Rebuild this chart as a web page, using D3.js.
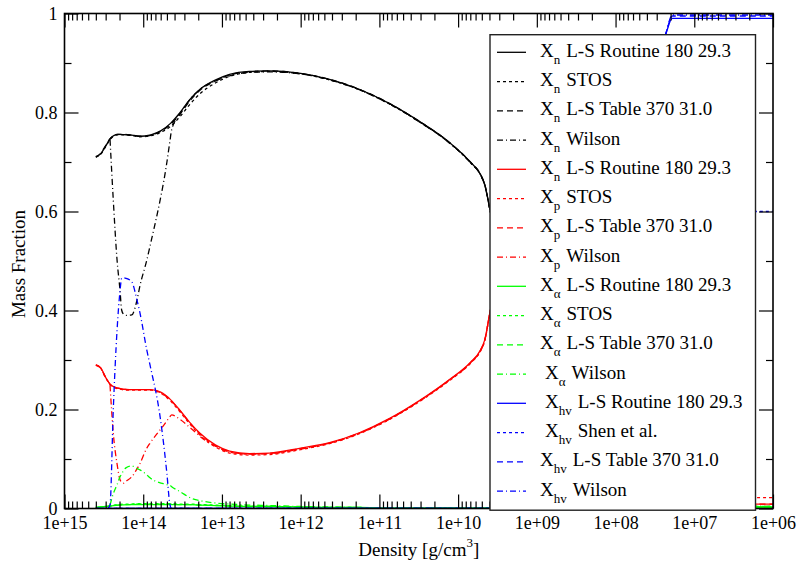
<!DOCTYPE html>
<html>
<head>
<meta charset="utf-8">
<script src="https://cdn.jsdelivr.net/npm/d3@7"></script>
</head>
<body style="margin:0;background:#fff">
<svg id="chart" width="801" height="571"></svg>
<script>
// density grid (g/cm^3) for the L-S / STOS / Table curves
let rho = [4.0e14, 3.5e14, 3.0e14, 2.6e14, 2.1e14, 1.5e14, 1.1e14, 8e13, 6e13, 4.5e13,
  3.4e13, 2.6e13, 1.9e13, 1.2e13, 8e12, 4.5e12, 2.5e12, 1e12, 4.3e11, 1.8e11,
  7.4e10, 3.1e10, 1.3e10, 7e9, 5.2e9, 4.6e9, 3.9e9, 2.5e9, 1e9, 3e8,
  1e8, 4e7, 2.35e7, 1.9e7, 1.5e7, 1e7, 5e6, 2e6, 1e6];

let xnRoutine = [0.710, 0.716, 0.732, 0.748, 0.756, 0.755, 0.752, 0.755, 0.763, 0.778,
  0.800, 0.825, 0.847, 0.866, 0.877, 0.883, 0.884, 0.879, 0.867, 0.847,
  0.818, 0.782, 0.740, 0.700, 0.675, 0.655, 0.600, 0.45, 0.25, 0.10,
  0.03, 0.01, 0.005, 0, 0, 0, 0, 0, 0];
let xnStos = [0.710, 0.715, 0.731, 0.747, 0.755, 0.754, 0.751, 0.753, 0.760, 0.772,
  0.792, 0.815, 0.838, 0.860, 0.873, 0.881, 0.883, 0.878, 0.866, 0.846,
  0.817, 0.781, 0.739, 0.699, 0.674, 0.654, 0.600, 0.45, 0.25, 0.10,
  0.03, 0.01, 0.005, 0, 0, 0, 0, 0, 0];
let xnTable = [0.711, 0.717, 0.733, 0.748, 0.756, 0.755, 0.752, 0.754, 0.762, 0.776,
  0.797, 0.822, 0.845, 0.864, 0.876, 0.882, 0.884, 0.879, 0.867, 0.847,
  0.818, 0.782, 0.740, 0.700, 0.675, 0.655, 0.600, 0.45, 0.25, 0.10,
  0.03, 0.01, 0.005, 0, 0, 0, 0, 0, 0];

let xpRoutine = [0.290, 0.285, 0.265, 0.250, 0.243, 0.240, 0.240, 0.240, 0.235, 0.220,
  0.198, 0.175, 0.152, 0.128, 0.116, 0.111, 0.112, 0.122, 0.133, 0.153,
  0.182, 0.218, 0.260, 0.295, 0.320, 0.340, 0.400, 0.48, 0.52, 0.42,
  0.22, 0.08, 0.03, 0.012, 0.01, 0.01, 0.01, 0.009, 0.009];
let xpStos = [0.290, 0.284, 0.264, 0.249, 0.242, 0.239, 0.239, 0.239, 0.233, 0.217,
  0.195, 0.172, 0.148, 0.124, 0.112, 0.108, 0.109, 0.119, 0.131, 0.151,
  0.180, 0.216, 0.258, 0.293, 0.318, 0.338, 0.398, 0.48, 0.52, 0.42,
  0.22, 0.09, 0.05, 0.03, 0.025, 0.022, 0.022, 0.022, 0.022];
let xpTable = [0.289, 0.284, 0.265, 0.250, 0.243, 0.240, 0.240, 0.240, 0.234, 0.219,
  0.197, 0.174, 0.150, 0.126, 0.114, 0.110, 0.111, 0.121, 0.132, 0.152,
  0.181, 0.217, 0.259, 0.294, 0.319, 0.339, 0.399, 0.48, 0.52, 0.42,
  0.22, 0.08, 0.03, 0.012, 0.01, 0.01, 0.01, 0.009, 0.009];

let xaRoutine = [0.002, 0.003, 0.004, 0.005, 0.007, 0.008, 0.008, 0.008, 0.008, 0.008,
  0.008, 0.008, 0.007, 0.006, 0.005, 0.004, 0.004, 0.003, 0.002, 0.002,
  0.001, 0.001, 0.001, 0.001, 0.001, 0.001, 0.001, 0.002, 0.004, 0.006,
  0.006, 0.005, 0.004, 0.003, 0.003, 0.003, 0.003, 0.003, 0.003];
let xaStos = [0.002, 0.003, 0.004, 0.006, 0.008, 0.009, 0.010, 0.010, 0.010, 0.010,
  0.009, 0.009, 0.008, 0.007, 0.006, 0.005, 0.004, 0.003, 0.002, 0.002,
  0.001, 0.001, 0.001, 0.001, 0.001, 0.001, 0.001, 0.002, 0.004, 0.006,
  0.006, 0.005, 0.004, 0.004, 0.004, 0.004, 0.004, 0.004, 0.004];
let xaTable = [0.002, 0.003, 0.004, 0.005, 0.007, 0.008, 0.009, 0.009, 0.009, 0.009,
  0.008, 0.008, 0.007, 0.006, 0.005, 0.004, 0.004, 0.003, 0.002, 0.002,
  0.001, 0.001, 0.001, 0.001, 0.001, 0.001, 0.001, 0.002, 0.004, 0.006,
  0.006, 0.005, 0.004, 0.003, 0.003, 0.003, 0.003, 0.003, 0.003];

let xhvRoutine = [0, 0, 0, 0, 0, 0, 0, 0, 0, 0,
  0, 0, 0, 0, 0, 0, 0, 0, 0, 0,
  0, 0, 0, 0, 0, 0, 0, 0.06, 0.22, 0.48,
  0.75, 0.90, 0.955, 0.99, 0.99, 0.99, 0.99, 0.99, 0.99];
let xhvShen = [0, 0, 0, 0, 0, 0, 0, 0, 0, 0,
  0, 0, 0, 0, 0, 0, 0, 0, 0, 0,
  0, 0, 0, 0, 0, 0, 0, 0.06, 0.22, 0.45,
  0.60, 0.60, 0.60, 0.60, 0.60, 0.60, 0.60, 0.60, 0.60];
let xhvTable = [0, 0, 0, 0, 0, 0, 0, 0, 0, 0,
  0, 0, 0, 0, 0, 0, 0, 0, 0, 0,
  0, 0, 0, 0, 0, 0, 0, 0.06, 0.22, 0.48,
  0.75, 0.90, 0.955, 0.995, 0.995, 0.995, 0.995, 0.995, 0.995];

// density grid for the Wilson curves
let rhoW = [2.8e14, 2.64e14, 2.4e14, 2.15e14, 1.97e14, 1.88e14, 1.79e14, 1.66e14, 1.4e14, 1.2e14,
  1.1e14, 9e13, 8.2e13, 6.1e13, 5.5e13, 5.0e13, 4.6e13, 4.35e13, 3.4e13, 2.4e13,
  1.64e13, 1.2e13, 8e12, 4.5e12, 2.5e12, 1e12, 4.3e11, 1.8e11, 7.4e10, 3.1e10,
  1.3e10, 7e9, 5.2e9, 4.6e9, 3.9e9, 2.5e9, 1e9, 3e8, 1e8, 4e7,
  2.35e7, 1.9e7, 1e7, 1e6];

let xnWilson = [null, 0.745, 0.623, 0.502, 0.440, 0.401, 0.393, 0.390, 0.391, 0.421,
  0.450, 0.502, 0.530, 0.623, 0.660, 0.700, 0.740, 0.765, 0.797, 0.831,
  0.854, 0.864, 0.874, 0.881, 0.882, 0.878, 0.866, 0.846, 0.817, 0.781,
  0.739, 0.699, 0.674, 0.654, 0.600, 0.45, 0.25, 0.10, 0.03, 0.01,
  0.005, 0, 0, 0];
let xpWilson = [null, 0.249, 0.152, 0.090, 0.058, 0.053, 0.051, 0.055, 0.064, 0.080,
  0.091, 0.122, 0.132, 0.159, 0.168, 0.177, 0.185, 0.189, 0.180, 0.160,
  0.138, 0.126, 0.115, 0.110, 0.111, 0.120, 0.132, 0.152, 0.181, 0.217,
  0.259, 0.294, 0.319, 0.339, 0.399, 0.48, 0.52, 0.42, 0.22, 0.08,
  0.03, 0.012, 0.006, 0.004];
let xaWilson = [null, 0.007, 0.030, 0.048, 0.064, 0.070, 0.076, 0.082, 0.086, 0.081,
  0.078, 0.068, 0.062, 0.052, 0.050, 0.048, 0.047, 0.044, 0.034, 0.020,
  0.014, 0.011, 0.009, 0.007, 0.006, 0.004, 0.003, 0.002, 0.001, 0.001,
  0.001, 0.001, 0.001, 0.001, 0.001, 0.002, 0.003, 0.004, 0.004, 0.004,
  0.004, 0.004, 0.004, 0.004];
let xhvWilson = [0, 0.007, 0.200, 0.360, 0.440, 0.465, 0.466, 0.465, 0.458, 0.421,
  0.395, 0.320, 0.290, 0.185, 0.130, 0.070, 0.010, 0, 0, 0,
  0, 0, 0, 0, 0, 0, 0, 0, 0, 0,
  0, 0, 0, 0, 0, 0.05, 0.20, 0.46, 0.74, 0.90,
  0.955, 0.997, 0.997, 0.997];

let xTicks = [1e15, 1e14, 1e13, 1e12, 1e11, 1e10, 1e9, 1e8, 1e7, 1e6];
let xTickLabels = ["1e+15", "1e+14", "1e+13", "1e+12", "1e+11", "1e+10", "1e+09", "1e+08", "1e+07", "1e+06"];
let yTicks = [0, 0.2, 0.4, 0.6, 0.8, 1];
let yTickLabels = ["0", "0.2", "0.4", "0.6", "0.8", "1"];
let yMinor = [0.1, 0.3, 0.5, 0.7, 0.9];

let legendSubs = ["n", "n", "n", "n", "n", "p", "p", "p", "α", "α", "α", "α", "hv", "hv", "hv", "hv"];
let legendTexts = ["L-S Routine 180 29.3", "STOS", "L-S Table 370 31.0", "Wilson",
  "L-S Routine 180 29.3", "STOS", "L-S Table 370 31.0", "Wilson",
  "L-S Routine 180 29.3", "STOS", "L-S Table 370 31.0", "Wilson",
  "L-S Routine 180 29.3", "Shen et al.", "L-S Table 370 31.0", "Wilson"];
let legendLead = [0, 0, 0, 0, 0, 0, 0, 0, 0, 0, 0, 1, 1, 1, 0, 0];

let colors = {n: "#000000", p: "#ff0000", a: "#00ff00", hv: "#0000ff"};
let dashes = {routine: null, stos: "3,3", table: "6,4", wilson: "6,3,1,3"};

let series = [
  {x: rho, y: xnRoutine, c: colors.n, d: dashes.routine},
  {x: rho, y: xnStos, c: colors.n, d: dashes.stos},
  {x: rho, y: xnTable, c: colors.n, d: dashes.table},
  {x: rhoW, y: xnWilson, c: colors.n, d: dashes.wilson},
  {x: rho, y: xpRoutine, c: colors.p, d: dashes.routine},
  {x: rho, y: xpStos, c: colors.p, d: dashes.stos},
  {x: rho, y: xpTable, c: colors.p, d: dashes.table},
  {x: rhoW, y: xpWilson, c: colors.p, d: dashes.wilson},
  {x: rho, y: xaRoutine, c: colors.a, d: dashes.routine},
  {x: rho, y: xaStos, c: colors.a, d: dashes.stos},
  {x: rho, y: xaTable, c: colors.a, d: dashes.table},
  {x: rhoW, y: xaWilson, c: colors.a, d: dashes.wilson},
  {x: rho, y: xhvRoutine, c: colors.hv, d: dashes.routine},
  {x: rho, y: xhvShen, c: colors.hv, d: dashes.stos},
  {x: rho, y: xhvTable, c: colors.hv, d: dashes.table},
  {x: rhoW, y: xhvWilson, c: colors.hv, d: dashes.wilson}
];

const FONT = "Liberation Serif";

let margin = {top: 13.5, right: 28, bottom: 62.5, left: 64.5},
    width = 801 - margin.left - margin.right,
    height = 571 - margin.top - margin.bottom;

let svg = d3.select("#chart");
let g = svg.append("g").attr("transform", `translate(${margin.left},${margin.top})`);

let x = d3.scaleLog().domain([1e15, 1e6]).range([0, width]);
let y = d3.scaleLinear().domain([0, 1]).range([height, 0]);

// minor ticks at 2..9 x decade
let xMinor = [];
xTicks.slice(1).forEach(dec => {
  for (let k = 2; k <= 9; k++) xMinor.push(dec * k);
});

g.append("clipPath").attr("id", "clip")
  .append("rect").attr("width", width).attr("height", height);

let line = d3.line()
  .defined(d => d[1] != null)
  .x(d => x(d[0]))
  .y(d => y(d[1]))
  .curve(d3.curveMonotoneX);

g.append("g").attr("clip-path", "url(#clip)")
  .selectAll("path")
  .data(series)
  .enter()
  .append("path")
  .attr("d", s => line(s.x.map((r, i) => [r, s.y[i]])))
  .attr("fill", "none")
  .attr("stroke", s => s.c)
  .attr("stroke-width", 1.3)
  .attr("stroke-dasharray", s => s.d);

// axes, ticks pointing inward on all four sides
function styleAxis(sel) {
  sel.attr("font-family", FONT).attr("font-size", 18);
  sel.select(".domain").remove();
  sel.selectAll("line").attr("stroke", "#000").attr("stroke-width", 1.2);
  sel.selectAll("text").attr("font-size", 18).attr("font-family", FONT).attr("fill", "#000");
}

g.append("g").attr("transform", `translate(0,${height})`)
  .call(d3.axisBottom(x).tickValues(xTicks).tickSize(-14).tickPadding(8)
    .tickFormat((d, i) => xTickLabels[i]))
  .call(styleAxis);
g.append("g").attr("transform", `translate(0,${height})`)
  .call(d3.axisBottom(x).tickValues(xMinor).tickSize(-7).tickFormat(""))
  .call(styleAxis);
g.append("g")
  .call(d3.axisTop(x).tickValues(xTicks).tickSize(-14).tickFormat(""))
  .call(styleAxis);
g.append("g")
  .call(d3.axisTop(x).tickValues(xMinor).tickSize(-7).tickFormat(""))
  .call(styleAxis);

g.append("g")
  .call(d3.axisLeft(y).tickValues(yTicks).tickSize(-14).tickPadding(7)
    .tickFormat((d, i) => yTickLabels[i]))
  .call(styleAxis);
g.append("g")
  .call(d3.axisLeft(y).tickValues(yMinor).tickSize(-7).tickFormat(""))
  .call(styleAxis);
g.append("g").attr("transform", `translate(${width},0)`)
  .call(d3.axisRight(y).tickValues(yTicks).tickSize(-14).tickFormat(""))
  .call(styleAxis);
g.append("g").attr("transform", `translate(${width},0)`)
  .call(d3.axisRight(y).tickValues(yMinor).tickSize(-7).tickFormat(""))
  .call(styleAxis);

g.append("rect")
  .attr("width", width).attr("height", height)
  .attr("fill", "none").attr("stroke", "#000").attr("stroke-width", 1.6);

// axis titles
svg.append("text")
  .attr("transform", `translate(25,${margin.top + height / 2 + 3}) rotate(-90)`)
  .attr("text-anchor", "middle")
  .attr("font-family", FONT)
  .attr("font-size", 19)
  .text("Mass Fraction");

let xl = svg.append("text")
  .attr("x", margin.left + width / 2)
  .attr("y", 556)
  .attr("text-anchor", "middle")
  .attr("font-family", FONT)
  .attr("font-size", 19);
xl.append("tspan").text("Density [g/cm");
xl.append("tspan").attr("font-size", 13).attr("dy", -9).text("3");
xl.append("tspan").attr("dy", 9).text("]");

// legend
let lg = svg.append("g").attr("transform", "translate(490,34.7)");
lg.append("rect")
  .attr("width", 265.5).attr("height", 475.5)
  .attr("fill", "#fff").attr("stroke", "#222").attr("stroke-width", 1.4);

let rowH = 29.25;
let rows = lg.selectAll("g.row")
  .data(series)
  .enter()
  .append("g")
  .attr("class", "row")
  .attr("transform", (d, i) => `translate(0,${17.6 + i * rowH})`);

rows.append("line")
  .attr("x1", 7).attr("x2", 36)
  .attr("stroke", d => d.c)
  .attr("stroke-width", 1.3)
  .attr("stroke-dasharray", d => d.d);

let lt = rows.append("text")
  .attr("x", (d, i) => 50 + legendLead[i] * 5)
  .attr("y", 4.5)
  .attr("font-family", FONT)
  .attr("font-size", 19);
lt.append("tspan").text("X");
lt.append("tspan").attr("font-size", 13).attr("dy", 7).text((d, i) => legendSubs[i]);
lt.append("tspan").attr("dy", -7).attr("dx", 6).text((d, i) => legendTexts[i]);
</script>
</body>
</html>
